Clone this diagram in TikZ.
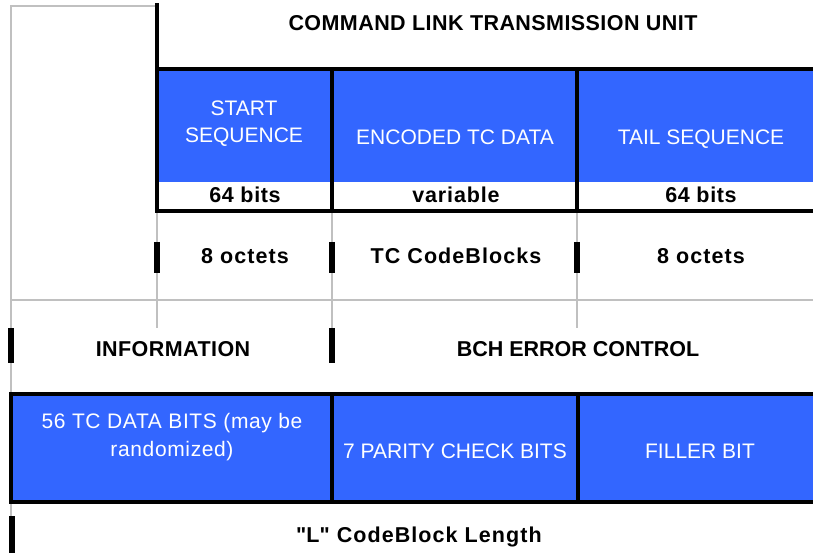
\documentclass[tikz,border=0pt]{standalone}
\usepackage{fontspec}
\setmainfont{Liberation Sans}
\definecolor{cellblue}{HTML}{3366FF}
\definecolor{rulegray}{HTML}{C0C0C0}
\tikzset{
  frame/.style={line width=4pt, black, line cap=rect, line join=miter},
  guide/.style={line width=2pt, rulegray},
  tick/.style={line width=6pt, black},
  head/.style={font=\fontsize{21.5}{27}\selectfont\bfseries\addfontfeatures{LetterSpace=#1}, anchor=base, inner sep=0pt},
  head/.default=0,
  field/.style={font=\fontsize{21}{27}\selectfont, text=white, align=center, inner sep=0pt},
}
\begin{document}
\begin{tikzpicture}[x=1pt,y=-1pt]
\useasboundingbox (0,0) rectangle (813,553);

% light guide lines
\draw[guide] (157,6) -- (11,6) -- (11,553);
\draw[guide] (11,300) -- (816,300);
\foreach \x in {157,332,577} \draw[guide] (\x,211) -- (\x,328);

% blue field areas
\fill[cellblue] (157,69) rectangle (816,182);
\fill[cellblue] (11,394) rectangle (816,502);

% transmission unit frame
\draw[frame] (157,5) -- (157,211);
\draw[frame] (818,69) -- (157,69);
\draw[frame] (818,211) -- (157,211);
\draw[frame] (332,69) -- (332,211);
\draw[frame] (577,69) -- (577,211);

% codeblock frame
\draw[frame, line cap=butt] (818,394) -- (11,394) -- (11,502) -- (818,502);
\draw[frame] (332,394) -- (332,502);
\draw[frame] (578,394) -- (578,502);

% boundary ticks
\foreach \x in {157,332,577} \draw[tick] (\x,242) -- (\x,273);
\draw[tick] (11,328) -- (11,363);
\draw[tick] (332,328) -- (332,363);
\draw[tick] (12,516) -- (12,556);

% labels
\node[head=2] (title) at (493,31) {COMMAND LINK TRANSMISSION UNIT};

\node[field, anchor=north] (start) at (244,100.7) {START\\SEQUENCE};
\node[field, anchor=base] (encoded) at (455,145) {ENCODED TC DATA};
\node[field, anchor=base] (tail) at (701,145) {TAIL SEQUENCE};

\node[head=3] (bitsA) at (245,203) {64 bits};
\node[head=4] (bitsB) at (456,203) {variable};
\node[head=3] (bitsC) at (701,203) {64 bits};

\node[head=5] (octA) at (245,263) {8 octets};
\node[head=5] (octB) at (456,263) {TC CodeBlocks};
\node[head=5] (octC) at (701,263) {8 octets};

\node[head=2] (info) at (173,356) {INFORMATION};
\node[head] (bch) at (578,356) {BCH ERROR CONTROL};

\node[field, anchor=north, font=\fontsize{21}{28}\selectfont\addfontfeatures{LetterSpace=3}] (data) at (172,412.7) {56 TC DATA BITS (may be\\randomized)};
\node[field, anchor=base] (parity) at (455,458) {7 PARITY CHECK BITS};
\node[field, anchor=base] (filler) at (700,458) {FILLER BIT};

\node[head=5] (length) at (419,542) {\textquotedbl L\textquotedbl{} CodeBlock Length};
\end{tikzpicture}
\end{document}
